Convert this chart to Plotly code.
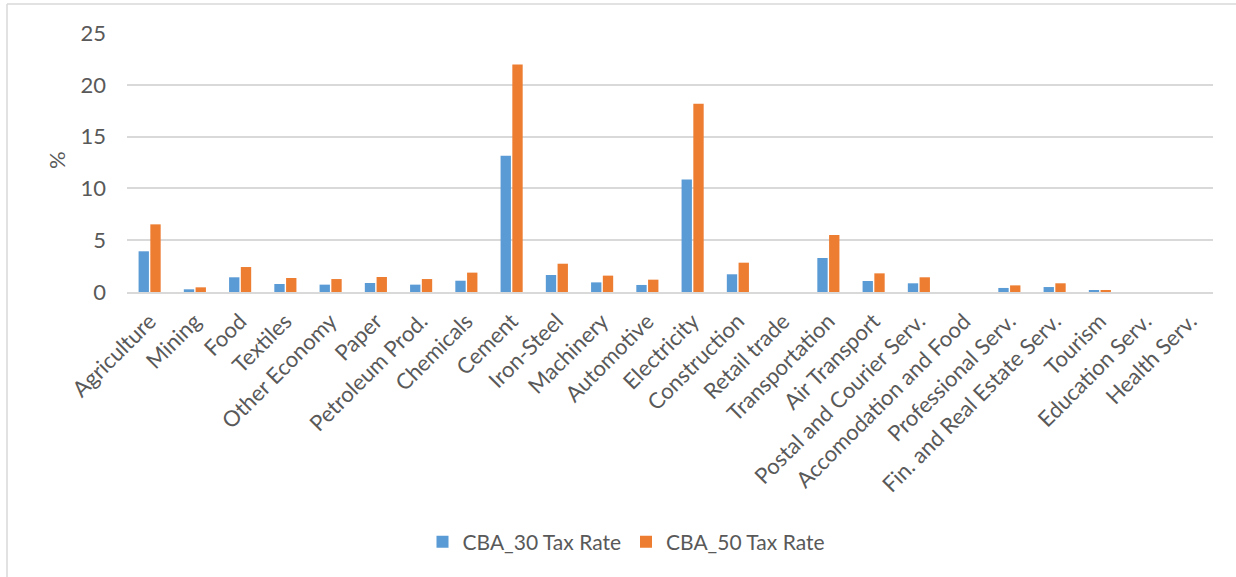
import plotly.graph_objects as go

sectors = [
    "Agriculture", "Mining", "Food", "Textiles", "Other Economy", "Paper",
    "Petroleum Prod.", "Chemicals", "Cement", "Iron-Steel", "Machinery",
    "Automotive", "Electricity", "Construction", "Retail trade",
    "Transportation", "Air Transport", "Postal and Courier Serv.",
    "Accomodation and Food", "Professional Serv.", "Fin. and Real Estate Serv.",
    "Tourism", "Education Serv.", "Health Serv.",
]
cba_30 = [3.93, 0.26, 1.42, 0.77, 0.71, 0.87, 0.71, 1.09, 13.16, 1.64, 0.93,
          0.68, 10.87, 1.71, 0.0, 3.28, 1.06, 0.84, 0.0, 0.39, 0.48, 0.10,
          0.0, 0.0]
cba_50 = [6.53, 0.45, 2.41, 1.35, 1.25, 1.45, 1.25, 1.87, 21.97, 2.73, 1.58,
          1.19, 18.18, 2.83, 0.0, 5.50, 1.80, 1.42, 0.0, 0.64, 0.84, 0.19,
          0.0, 0.0]
y_ticks = [0, 5, 10, 15, 20, 25]

FONT = "Lato"
TXT = "#595959"
GRID = "#d9d9d9"
FS = 22

fig = go.Figure()
fig.add_trace(go.Bar(x=sectors, y=cba_30, name="CBA_30 Tax Rate",
                     marker=dict(color="#5B9BD5", line=dict(width=0))))
fig.add_trace(go.Bar(x=sectors, y=cba_50, name="CBA_50 Tax Rate",
                     marker=dict(color="#ED7D31", line=dict(width=0))))

L, R, T, B = 127, 1236 - 1213, 33, 577 - 292
W, H = 1236, 577
pw, ph = W - L - R, H - T - B

def px(x):
    return (x - L) / pw

def py(y):
    return (T + ph - y) / ph

fig.update_layout(
    width=W, height=H,
    margin=dict(l=L, r=R, t=T, b=B),
    paper_bgcolor="white", plot_bgcolor="white",
    barmode="group", bargap=0.48, bargroupgap=0.12,
    font=dict(family=FONT, color=TXT, size=FS),
    showlegend=True,
    legend=dict(orientation="h", x=px(626), y=py(542), xanchor="center",
                yanchor="middle", font=dict(size=21, color=TXT),
                itemwidth=30, tracegroupgap=0, bgcolor="rgba(0,0,0,0)"),
    xaxis=dict(tickangle=-45, showgrid=False, showline=True, linecolor=GRID,
               linewidth=1.5, ticks="", tickfont=dict(size=FS, color=TXT),
               ticklabelstandoff=6),
    yaxis=dict(range=[0, 25], tickvals=y_ticks, showgrid=True, gridcolor=GRID,
               gridwidth=1.5, zeroline=False, showline=False, ticks="",
               tickfont=dict(size=FS, color=TXT), ticklabelstandoff=20),
    annotations=[dict(text="%", x=px(56), y=py(160), xref="paper", yref="paper",
                      xanchor="center", yanchor="middle",
                      showarrow=False, textangle=-90,
                      font=dict(size=FS, color=TXT))],
    shapes=[
        dict(type="line", xref="paper", yref="paper", x0=px(7), x1=px(W),
             y0=py(4), y1=py(4), line=dict(color=GRID, width=1.5)),
        dict(type="line", xref="paper", yref="paper", x0=px(7), x1=px(7),
             y0=py(4), y1=py(H), line=dict(color=GRID, width=1.5)),
    ],
)

fig.write_html("out.html")
